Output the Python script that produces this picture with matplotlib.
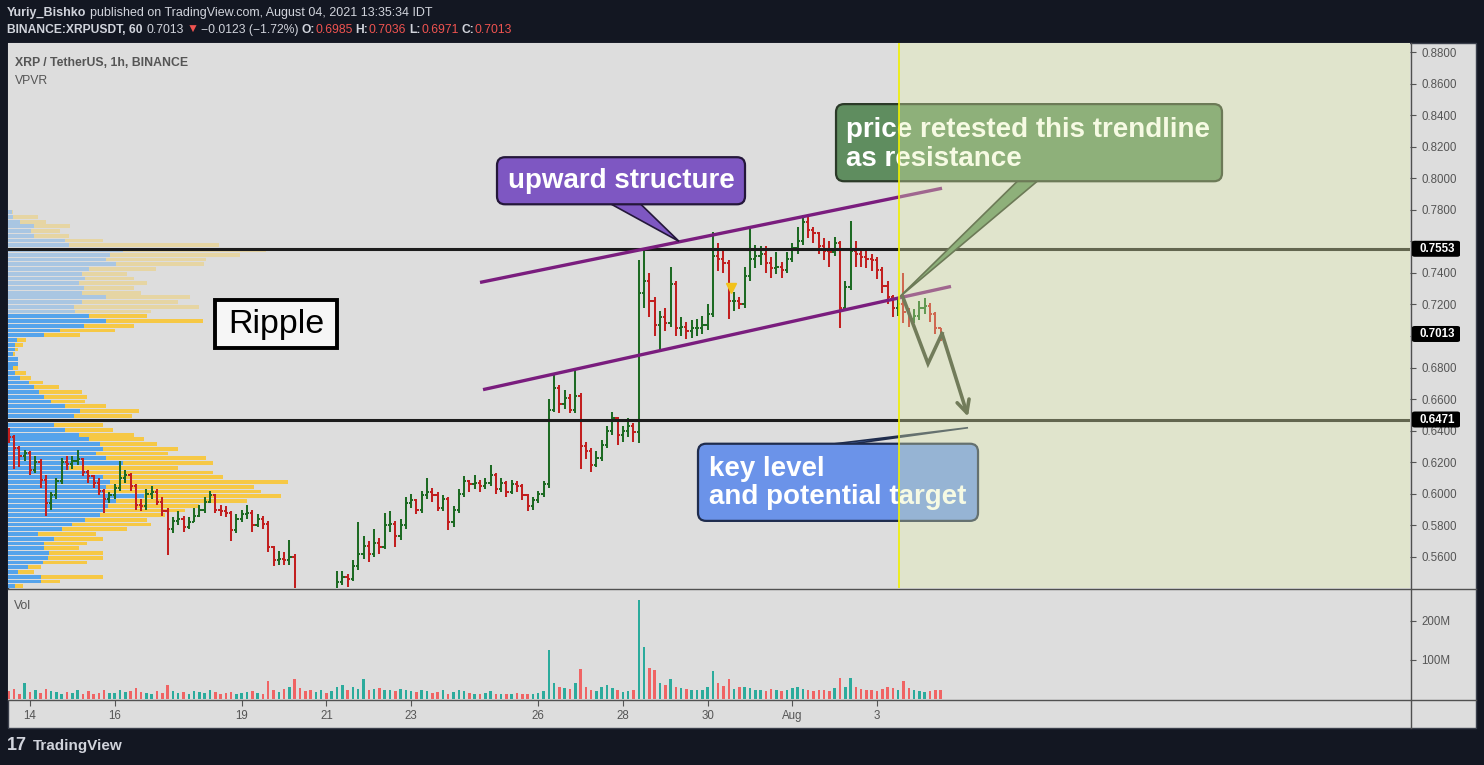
import matplotlib
matplotlib.use('Agg')
import matplotlib.pyplot as plt
import numpy as np
from matplotlib.patches import Rectangle, FancyBboxPatch, Polygon
from matplotlib.collections import LineCollection
from matplotlib.transforms import blended_transform_factory

plt.rcParams['font.family'] = ['Liberation Sans', 'DejaVu Sans']

# ---------------- data ----------------
# 3-hour OHLC bars, x in days since Jul 14 00:00 (first bar Jul 13 12:00)
bar_start_day = -0.5
bar_days = 0.125
first_open = 0.641
closes = [0.636,0.629,0.624,0.626,0.615,0.620,0.609,0.594,0.599,0.608,
 0.620,0.619,0.621,0.622,0.614,0.611,0.607,0.602,0.597,0.599,
 0.604,0.610,0.612,0.605,0.593,0.592,0.600,0.601,0.595,0.589,
 0.578,0.583,0.584,0.579,0.582,0.586,0.590,0.595,0.599,0.590,
 0.589,0.588,0.577,0.584,0.587,0.588,0.580,0.584,0.581,0.566,
 0.558,0.559,0.558,0.560,0.532,0.527,0.520,0.516,0.522,0.528,
 0.525,0.533,0.544,0.547,0.546,0.554,0.562,0.567,0.562,0.569,
 0.566,0.580,0.581,0.573,0.580,0.594,0.596,0.590,0.599,0.601,
 0.599,0.591,0.597,0.582,0.590,0.600,0.608,0.606,0.607,0.605,
 0.607,0.612,0.603,0.607,0.601,0.606,0.605,0.599,0.592,0.596,
 0.600,0.606,0.653,0.667,0.657,0.661,0.653,0.662,0.630,0.627,
 0.618,0.623,0.631,0.640,0.648,0.637,0.640,0.643,0.639,0.727,
 0.735,0.722,0.707,0.712,0.708,0.733,0.705,0.706,0.703,0.705,
 0.705,0.707,0.714,0.751,0.749,0.746,0.722,0.7225,0.720,0.738,
 0.749,0.751,0.752,0.746,0.743,0.744,0.742,0.749,0.756,0.760,
 0.772,0.767,0.765,0.757,0.754,0.753,0.759,0.718,0.731,0.754,
 0.752,0.750,0.749,0.748,0.742,0.732,0.7245,0.7175,0.7206,0.715,
 0.711,0.713,0.718,0.719,0.714,0.705,0.7013]
highs = [0.642,0.637,0.630,0.628,0.627,0.624,0.622,0.612,0.601,0.610,
 0.623,0.624,0.624,0.628,0.623,0.615,0.612,0.610,0.603,0.601,
 0.606,0.621,0.615,0.613,0.606,0.597,0.603,0.605,0.603,0.598,
 0.591,0.585,0.589,0.586,0.585,0.591,0.593,0.598,0.602,0.600,
 0.593,0.592,0.589,0.587,0.590,0.593,0.590,0.587,0.586,0.583,
 0.567,0.564,0.563,0.571,0.562,0.536,0.530,0.523,0.525,0.531,
 0.530,0.537,0.551,0.551,0.549,0.558,0.582,0.573,0.570,0.578,
 0.572,0.588,0.589,0.583,0.584,0.598,0.600,0.597,0.602,0.610,
 0.604,0.601,0.599,0.598,0.592,0.603,0.611,0.609,0.612,0.609,
 0.610,0.618,0.613,0.610,0.608,0.609,0.608,0.606,0.600,0.598,
 0.602,0.608,0.660,0.676,0.669,0.666,0.663,0.679,0.664,0.633,
 0.629,0.627,0.634,0.643,0.652,0.649,0.643,0.648,0.645,0.748,
 0.756,0.740,0.725,0.716,0.718,0.744,0.735,0.712,0.709,0.710,
 0.711,0.713,0.720,0.766,0.759,0.756,0.748,0.728,0.725,0.744,
 0.768,0.758,0.757,0.757,0.750,0.753,0.747,0.753,0.759,0.769,
 0.7765,0.776,0.769,0.766,0.762,0.760,0.763,0.760,0.735,0.773,
 0.760,0.756,0.754,0.752,0.750,0.744,0.735,0.726,0.724,0.740,
 0.718,0.717,0.722,0.724,0.721,0.715,0.7036]
lows = [0.632,0.616,0.617,0.621,0.612,0.613,0.604,0.586,0.590,0.597,
 0.606,0.615,0.616,0.618,0.611,0.607,0.604,0.599,0.588,0.594,
 0.597,0.602,0.607,0.602,0.590,0.589,0.590,0.597,0.593,0.586,
 0.561,0.575,0.580,0.576,0.578,0.582,0.585,0.588,0.594,0.588,
 0.586,0.585,0.570,0.575,0.582,0.584,0.576,0.579,0.578,0.563,
 0.554,0.555,0.555,0.555,0.528,0.522,0.515,0.511,0.513,0.519,
 0.521,0.523,0.531,0.542,0.541,0.545,0.552,0.559,0.557,0.560,
 0.562,0.565,0.576,0.566,0.571,0.578,0.591,0.587,0.588,0.597,
 0.595,0.589,0.589,0.577,0.579,0.588,0.598,0.601,0.603,0.601,
 0.603,0.605,0.600,0.601,0.598,0.600,0.601,0.596,0.589,0.590,
 0.594,0.598,0.604,0.652,0.651,0.654,0.651,0.651,0.616,0.622,
 0.614,0.617,0.621,0.629,0.637,0.631,0.633,0.636,0.633,0.632,
 0.718,0.712,0.700,0.691,0.703,0.706,0.700,0.700,0.698,0.699,
 0.700,0.701,0.704,0.712,0.741,0.740,0.711,0.716,0.717,0.718,
 0.735,0.743,0.745,0.740,0.737,0.739,0.737,0.740,0.747,0.752,
 0.758,0.762,0.759,0.752,0.748,0.744,0.751,0.705,0.716,0.729,
 0.744,0.744,0.743,0.741,0.736,0.727,0.720,0.712,0.713,0.708,
 0.706,0.708,0.710,0.714,0.709,0.701,0.6971]
volumes_m = [20,25,14,40,18,22,15,25,20,17,
 14,18,16,22,14,20,12,16,24,15,
 15,22,18,20,28,18,16,14,20,15,
 35,20,16,18,14,20,17,15,22,18,
 14,16,18,13,15,17,20,16,14,46,
 22,18,26,30,51,28,20,24,18,22,
 16,20,30,36,24,30,26,51,22,26,
 28,24,22,20,26,22,20,18,24,20,
 16,18,22,14,18,24,20,16,14,12,
 16,20,12,14,12,14,16,12,14,12,
 16,20,126,40,30,28,25,40,77,30,
 22,20,30,36,28,22,18,20,24,254,
 133,80,75,40,35,50,30,28,26,24,
 22,24,30,72,40,34,51,26,30,32,
 28,22,24,20,26,22,20,24,28,30,
 26,24,20,22,24,20,28,54,32,54,
 30,26,22,24,20,26,30,28,24,46,
 28,22,20,18,20,22,24]

# Volume profile (VPVR): rows from 0.540 upward, step 0.003
vp_price_lo = 0.540
vp_step = 0.003
vp_up = [7,32,32,10,19,34,39,40,35,35,45,29,52,62,75,89,94,97,105,132,
         92,95,99,92,79,59,112,95,85,92,89,79,69,55,45,40,64,70,55,42,
         35,30,25,20,12,7,5,10,10,5,7,7,9,35,50,74,95,79,65,64,
         72,95,72,74,69,75,72,79,105,95,99,112,59,55,25,22,25,12,5,4]
vp_down = [8,18,60,15,13,43,53,52,34,42,47,56,63,77,60,63,78,88,127,133,
           153,144,173,117,120,106,87,97,70,73,56,53,53,47,47,49,56,57,40,33,
           42,42,24,14,10,10,5,0,0,2,3,8,8,35,54,48,94,56,74,121,
           93,82,57,48,66,47,43,65,85,97,126,138,146,37,34,28,35,25,24,1]
value_area_top = 0.714

level_lines = [0.7553, 0.6471]
last_price = 0.7013
price_ticks = [0.56,0.58,0.60,0.62,0.64,0.66,0.68,0.70,0.72,0.74,0.76,0.78,0.80,0.82,0.84,0.86,0.88]
date_tick_days = [0, 2, 5, 7, 9, 12, 14, 16, 18, 20]
date_tick_labels = ['14', '16', '19', '21', '23', '26', '28', '30', 'Aug', '3']
vol_ticks = [100, 200]
vol_tick_labels = ['100M', '200M']

# drawings (days, price)
upper_trend = [(10.626, 0.73397), (21.535, 0.79365)]
lower_trend = [(10.697, 0.66603), (21.747, 0.73143)]
projection = [(20.614, 0.72444), (21.204, 0.68254), (21.535, 0.70159), (22.149, 0.64889)]
range_start_day = 20.519
marker_point = (16.551, 0.73016)

# ---------------- figure ----------------
W, H = 1484, 765
fig = plt.figure(figsize=(W / 100, H / 100), dpi=100, facecolor='#131722')
def fx(px): return px / W
def fy(py): return 1 - py / H

BG = '#dddddd'
fig.patches.append(Rectangle((fx(8), fy(728)), fx(1476) - fx(8), fy(43) - fy(728),
                             transform=fig.transFigure, facecolor=BG,
                             edgecolor='#3a3f4b', lw=1, zorder=-10))

ax = fig.add_axes([fx(8), fy(588), fx(1410) - fx(8), fy(43) - fy(588)])
axv = fig.add_axes([fx(8), fy(700), fx(1410) - fx(8), fy(589) - fy(700)])
XLIM = (-0.5195, 32.585)
for a in (ax, axv):
    a.set_facecolor(BG)
    a.set_xlim(*XLIM)
    for s in a.spines.values():
        s.set_visible(False)
ax.set_ylim(0.54032, 0.88571)
axv.set_ylim(-2.6, 282)

n = len(closes)
xs = np.array([bar_start_day + i * bar_days for i in range(n)])
closes_a = np.array(closes)
opens_a = np.array([first_open] + closes[:-1])
highs_a = np.maximum(np.array(highs), np.maximum(opens_a, closes_a))
lows_a = np.minimum(np.array(lows), np.minimum(opens_a, closes_a))
up = closes_a >= opens_a
UPC, DNC = '#1d6a23', '#c21f1f'

# OHLC bars
segs, cols = [], []
tw = 0.052
for x, o, h, l, c, u in zip(xs, opens_a, highs_a, lows_a, closes_a, up):
    col = UPC if u else DNC
    segs += [[(x, l), (x, h)], [(x - tw, o), (x, o)], [(x, c), (x + tw, c)]]
    cols += [col] * 3
ax.add_collection(LineCollection(segs, colors=cols, linewidths=1.45, capstyle='butt', zorder=3))

# VPVR
btf = blended_transform_factory(ax.transAxes, ax.transData)
vmax = max(u_ + d_ for u_, d_ in zip(vp_up, vp_down))
scale = 0.2 / vmax
for k, (vu, vd) in enumerate(zip(vp_up, vp_down)):
    p = vp_price_lo + k * vp_step + vp_step * 0.1
    hgt = vp_step * 0.8
    alpha = 1.0 if p < value_area_top else 0.38
    ax.add_patch(Rectangle((0, p), vu * scale, hgt, transform=btf, facecolor='#55a3eb',
                           edgecolor='none', alpha=alpha, zorder=1))
    ax.add_patch(Rectangle((vu * scale, p), vd * scale, hgt, transform=btf, facecolor='#f6c845',
                           edgecolor='none', alpha=alpha, zorder=1))

# horizontal levels
for lv in level_lines:
    ax.axhline(lv, color='#1c1c1c', lw=2.2, zorder=4)

# trendlines
for tl in (upper_trend, lower_trend):
    ax.plot([tl[0][0], tl[1][0]], [tl[0][1], tl[1][1]], color='#7a1d7e', lw=2.4,
            solid_capstyle='butt', zorder=5)

# projection path
px_, py_ = zip(*projection)
ax.plot(px_[:-1], py_[:-1], color='#333d2e', lw=2.6, zorder=6, solid_joinstyle='miter')
ax.annotate('', xy=projection[-1], xytext=projection[-2],
            arrowprops=dict(arrowstyle='->,head_length=0.9,head_width=0.45',
                            color='#333d2e', lw=2.6, shrinkA=0, shrinkB=0), zorder=6)

ax.plot([marker_point[0]], [marker_point[1]], marker='v', color='#f2c21b', ms=7, zorder=6)

ASP = (1 / 1575) / (1 / 42.35)

def callout(x0, x1, ytop, ybot, face, edge, tail, zo=8):
    ax.add_patch(Polygon(tail, closed=True, facecolor=face, edgecolor=edge, lw=1.2, zorder=zo - 1))
    ax.add_patch(FancyBboxPatch((x0, ybot), x1 - x0, ytop - ybot,
                                boxstyle='round,pad=0,rounding_size=0.19',
                                mutation_aspect=ASP, facecolor=face, edgecolor=edge,
                                lw=1.6, zorder=zo))

# Ripple box
ax.add_patch(Rectangle((4.368, 0.69270), 7.249 - 4.368, 0.72254 - 0.69270,
                       facecolor='#f6f6f6', edgecolor='black', lw=2.8, zorder=8))
ax.text(5.809, 0.7075, 'Ripple', fontsize=24.5, color='black', ha='center', va='center', zorder=9)

# upward structure
callout(11.027, 16.883, 0.81333, 0.78349, '#7e57c2', '#24173a',
        [(13.695, 0.7840), (14.404, 0.7840), (15.325, 0.7600)])
ax.text(13.955, 0.7984, 'upward structure', fontsize=20, fontweight='bold', color='white',
        ha='center', va='center', zorder=9)

# green callout
callout(19.032, 28.146, 0.84698, 0.79810, '#5f8d5f', '#2b3a28',
        [(23.329, 0.7985), (23.801, 0.7985), (20.519, 0.72444)])
ax.text(19.268, 0.8305, 'price retested this trendline', fontsize=20, fontweight='bold',
        color='white', ha='left', va='center', zorder=9)
ax.text(19.268, 0.8125, 'as resistance', fontsize=20, fontweight='bold',
        color='white', ha='left', va='center', zorder=9)

# blue callout
callout(15.773, 22.385, 0.63175, 0.58286, '#6b93e9', '#1f2c4d',
        [(18.937, 0.6315), (19.362, 0.6315), (22.149, 0.64190)])
ax.text(16.033, 0.6160, 'key level', fontsize=20, fontweight='bold', color='white',
        ha='left', va='center', zorder=9)
ax.text(16.033, 0.5980, 'and potential target', fontsize=20, fontweight='bold', color='white',
        ha='left', va='center', zorder=9)

# date range shading + marker line
ax.add_patch(Rectangle((range_start_day, 0.5), XLIM[1] - range_start_day, 0.5,
                       facecolor='#e8f3af', alpha=0.35, edgecolor='none', zorder=20))
ax.axvline(range_start_day, color='#f0f000', lw=1.2, zorder=21)

# volume
vcols = ['#2bab9c' if u else '#f06464' for u in up]
axv.bar(xs, volumes_m, width=0.06, color=vcols, zorder=2)

# axes ticks (labels hidden under the highlighted price tags, as in the reference)
highlighted = level_lines + [last_price]
ax.yaxis.tick_right()
ax.set_yticks(price_ticks)
ax.set_yticklabels(['' if min(abs(t - h) for h in highlighted) < 0.0065 else '%.4f' % t
                    for t in price_ticks])
ax.tick_params(axis='y', length=4, width=0.8, color='#555555', labelcolor='#555555',
               labelsize=8.3, pad=4)
ax.tick_params(axis='x', bottom=False, labelbottom=False)
axv.yaxis.tick_right()
axv.set_yticks(vol_ticks)
axv.set_yticklabels(vol_tick_labels)
axv.tick_params(axis='y', length=4, width=0.8, color='#555555', labelcolor='#555555',
                labelsize=8.3, pad=4)
axv.set_xticks(date_tick_days)
axv.set_xticklabels(date_tick_labels)
axv.tick_params(axis='x', length=4, width=0.8, color='#555555', labelcolor='#555555',
                labelsize=8.3, pad=3)

# separators
for (xa, ya, xb, yb) in [(8, 588.5, 1476, 588.5), (8, 700, 1476, 700), (1410.5, 43, 1410.5, 728)]:
    fig.add_artist(plt.Line2D([fx(xa), fx(xb)], [fy(ya), fy(yb)], transform=fig.transFigure,
                              color='#505050', lw=1, zorder=2))

# price labels on axis
def price_label(price):
    ydisp = ax.transData.transform((0, price))[1]
    yf = ydisp / H
    fig.patches.append(FancyBboxPatch((fx(1412), yf - 8 / H), fx(1460) - fx(1412), 16 / H,
                                      boxstyle='round,pad=0,rounding_size=0.002',
                                      transform=fig.transFigure, facecolor='black',
                                      edgecolor='none', zorder=5))
    fig.text(fx(1419), yf, '%.4f' % price, color='white', fontsize=8.3, fontweight='bold',
             va='center', ha='left', zorder=6)
for lv in highlighted:
    price_label(lv)

# in-pane legends
fig.text(fx(15), fy(63), 'XRP / TetherUS, 1h, BINANCE', fontsize=8.8, fontweight='bold',
         color='#555555', va='center')
fig.text(fx(15), fy(81), 'VPVR', fontsize=8.8, color='#555555', va='center')
fig.text(fx(14), fy(606), 'Vol', fontsize=8.8, color='#555555', va='center')

# header
renderer = fig.canvas.get_renderer()
TXT = '#d1d4dc'
RED = '#ef5350'
def pieces(items, x0, y, size):
    x = x0
    for s, w, c, gap in items:
        t = fig.text(fx(x), fy(y), s, fontsize=size, fontweight=w, color=c, va='center', ha='left')
        x += t.get_window_extent(renderer).width + gap

pieces([('Yuriy_Bishko', 'bold', TXT, 4),
        ('published on TradingView.com, August 04, 2021 13:35:34 IDT', 'normal', TXT, 0)], 7, 13, 9)
pieces([('BINANCE:XRPUSDT, 60', 'bold', TXT, 4), ('0.7013', 'normal', TXT, 3),
        ('\u25bc', 'normal', RED, 2), ('\u22120.0123 (\u22121.72%)', 'normal', TXT, 3),
        ('O:', 'bold', TXT, 0.5), ('0.6985', 'normal', RED, 3),
        ('H:', 'bold', TXT, 0.5), ('0.7036', 'normal', RED, 3),
        ('L:', 'bold', TXT, 0.5), ('0.6971', 'normal', RED, 3),
        ('C:', 'bold', TXT, 0.5), ('0.7013', 'normal', RED, 0)], 7, 30, 8.7)

# logo
fig.text(fx(7), fy(746), '17', fontsize=13, fontweight='bold', color=TXT, va='center')
fig.text(fx(33), fy(746), 'TradingView', fontsize=11, fontweight='bold', color=TXT, va='center')

fig.savefig('out.png', dpi=100, facecolor=fig.get_facecolor())
